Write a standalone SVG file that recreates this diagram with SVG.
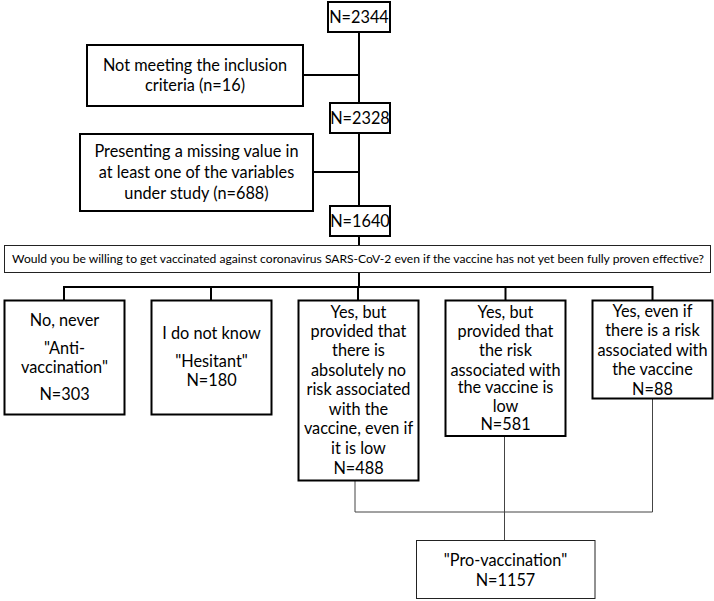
<svg xmlns="http://www.w3.org/2000/svg" width="714" height="601" viewBox="0 0 714 601">
<style>
.b{fill:#fff;stroke:#000;stroke-width:2}
.t{fill:#fff;stroke:#222;stroke-width:1}
.c{fill:none;stroke:#000;stroke-width:2}
.g{fill:none;stroke:#444;stroke-width:1}
text{font-family:Lato,"Liberation Sans",sans-serif;font-size:16.3px;fill:#000;text-anchor:middle}
.q{font-size:12.1px}
</style>
<g id="connectors">
<line class="c" x1="359" y1="20" x2="359" y2="245"/>
<line class="c" x1="303" y1="75" x2="359" y2="75"/>
<line class="c" x1="313" y1="172" x2="359" y2="172"/>
<line class="c" x1="359" y1="272" x2="359" y2="287"/>
<line class="c" x1="64" y1="287" x2="653" y2="287"/>
<line class="c" x1="64" y1="286" x2="64" y2="301"/>
<line class="c" x1="211" y1="286" x2="211" y2="301"/>
<line class="c" x1="358" y1="286" x2="358" y2="301"/>
<line class="c" x1="505.5" y1="286" x2="505.5" y2="301"/>
<line class="c" x1="652.5" y1="286" x2="652.5" y2="301"/>
<polyline class="g" points="355,480 355,512 652.5,512 652.5,399"/>
<line class="g" x1="504.5" y1="436" x2="504.5" y2="540"/>
</g>
<g id="n2344"><rect class="b" x="328" y="2" width="62" height="30"/><text x="359" y="22.5">N=2344</text></g>
<g id="excl1"><rect class="b" x="87" y="45" width="216" height="61"/><text x="195" y="70.5">Not meeting the inclusion</text><text x="195" y="90.5">criteria (n=16)</text></g>
<g id="n2328"><rect class="b" x="330" y="103" width="60" height="30"/><text x="360" y="124">N=2328</text></g>
<g id="excl2"><rect class="b" x="80" y="134" width="233" height="77"/><text x="196.5" y="156.5">Presenting a missing value in</text><text x="196.5" y="177.5">at least one of the variables</text><text x="196.5" y="198.5">under study (n=688)</text></g>
<g id="n1640"><rect class="b" x="330" y="206" width="60" height="30"/><text x="360" y="226.5">N=1640</text></g>
<g id="question"><rect class="t" x="4.5" y="245.5" width="706" height="27"/><text class="q" x="358" y="263">Would you be willing to get vaccinated against coronavirus SARS-CoV-2 even if the vaccine has not yet been fully proven effective?</text></g>
<g id="anti"><rect class="b" x="4.5" y="300.5" width="120" height="114"/><text x="64.5" y="325.5">No, never</text><text x="64.5" y="353.5">"Anti-</text><text x="64.5" y="372.5">vaccination"</text><text x="64.5" y="399.5">N=303</text></g>
<g id="hesitant"><rect class="b" x="151.5" y="300.5" width="120" height="114"/><text x="211.5" y="338.5">I do not know</text><text x="211.5" y="366.5">"Hesitant"</text><text x="211.5" y="385.5">N=180</text></g>
<g id="yes1"><rect class="b" x="298.5" y="300.5" width="120" height="180"/><text x="358.5" y="318">Yes, but</text><text x="358.5" y="337">provided that</text><text x="358.5" y="356">there is</text><text x="358.5" y="375.5">absolutely no</text><text x="358.5" y="395">risk associated</text><text x="358.5" y="414.5">with the</text><text x="358.5" y="434">vaccine, even if</text><text x="358.5" y="454">it is low</text><text x="358.5" y="474">N=488</text></g>
<g id="yes2"><rect class="b" x="445.5" y="300.5" width="120" height="135.5"/><text x="505.5" y="318">Yes, but</text><text x="505.5" y="337">provided that</text><text x="505.5" y="356">the risk</text><text x="505.5" y="375.5">associated with</text><text x="505.5" y="393">the vaccine is</text><text x="505.5" y="412">low</text><text x="505.5" y="430">N=581</text></g>
<g id="yes3"><rect class="b" x="592.5" y="300.5" width="120" height="98"/><text x="652.5" y="317">Yes, even if</text><text x="652.5" y="336">there is a risk</text><text x="652.5" y="355.5">associated with</text><text x="652.5" y="375">the vaccine</text><text x="652.5" y="394.5">N=88</text></g>
<g id="pro"><rect class="t" x="416.5" y="540.5" width="178.5" height="58"/><text x="505.5" y="565.5">"Pro-vaccination"</text><text x="505.5" y="586">N=1157</text></g>
</svg>
